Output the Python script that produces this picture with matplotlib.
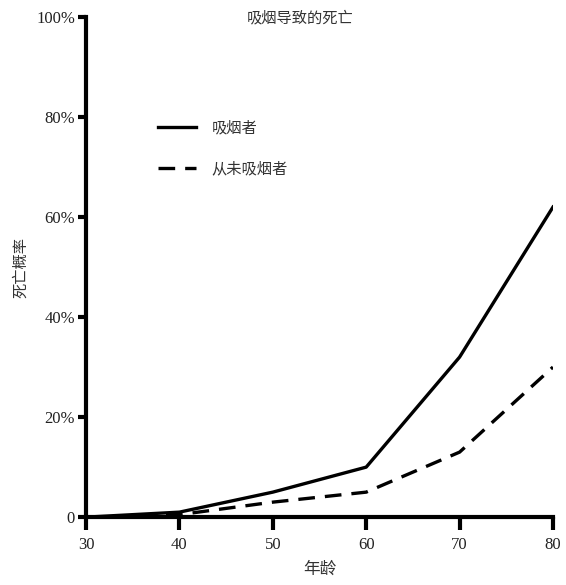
import matplotlib.pyplot as plt

ages = [30, 40, 50, 60, 70, 80]
smokers = [0, 1, 5, 10, 32, 62]
never_smokers = [0, 0.5, 3, 5, 13, 30]
y_ticks = [0, 20, 40, 60, 80, 100]
y_tick_labels = ["0", "20%", "40%", "60%", "80%", "100%"]

cjk = ["Noto Sans CJK SC", "DejaVu Sans"]
serif = ["Liberation Serif", "DejaVu Serif"]

fig = plt.figure(figsize=(5.66, 5.85), dpi=100)
ax = fig.add_axes([0.152, 0.116, 0.825, 0.855])

ax.plot(ages, smokers, color="black", linewidth=2.4, label="吸烟者")
ax.plot(ages, never_smokers, color="black", linewidth=2.4, linestyle=(0, (5, 3)), label="从未吸烟者")

ax.set_xlim(30, 80)
ax.set_ylim(0, 100)
ax.set_xticks(ages)
ax.set_xticklabels([str(a) for a in ages], family=serif, fontsize=12, color="#222")
ax.set_yticks(y_ticks)
ax.set_yticklabels(y_tick_labels, family=serif, fontsize=12, color="#222")

for side in ["top", "right"]:
    ax.spines[side].set_visible(False)
for side in ["left", "bottom"]:
    ax.spines[side].set_linewidth(3)
ax.tick_params(axis="y", length=6, width=3, pad=2)
ax.tick_params(axis="x", length=9, width=3, pad=5)

ax.set_xlabel("年龄", family=cjk, fontsize=12, color="#333", labelpad=6)
ax.set_ylabel("死亡概率", family=cjk, fontsize=11, color="#333", labelpad=5)
fig.text(0.53, 0.97, "吸烟导致的死亡", family=cjk, fontsize=11, color="#333",
         ha="center", va="center")

leg = ax.legend(loc="upper left", bbox_to_anchor=(0.125, 0.822), frameon=False,
                prop={"family": cjk, "size": 11}, handlelength=2.5,
                labelspacing=1.55, handletextpad=1.0)
for t in leg.get_texts():
    t.set_color("#333")

fig.savefig("out.png", dpi=100)
